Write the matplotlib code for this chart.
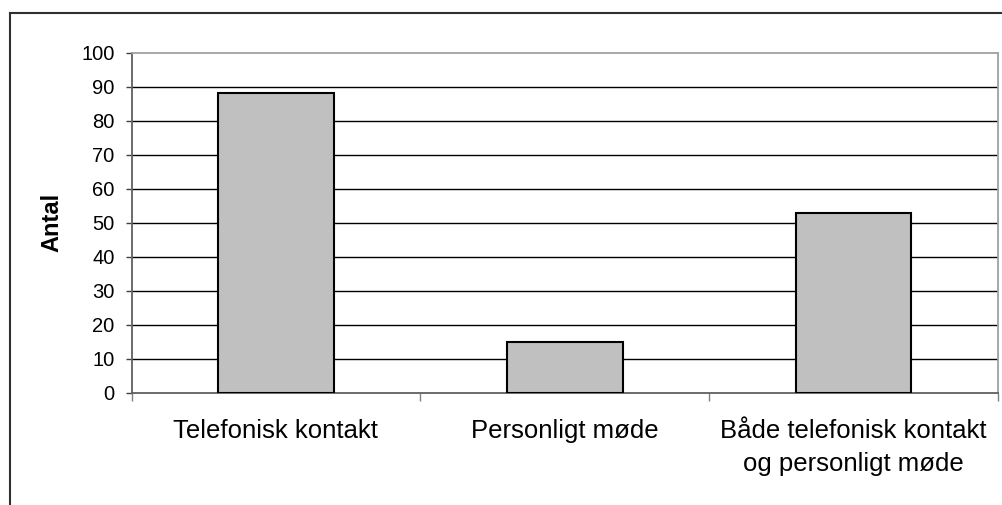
import matplotlib
matplotlib.use("Agg")
import matplotlib.pyplot as plt
from matplotlib.lines import Line2D

plt.rcParams['font.family'] = ['Liberation Sans', 'DejaVu Sans']

categories = ["Telefonisk kontakt", "Personligt møde", "Både telefonisk kontakt\nog personligt møde"]
antal = [88, 15, 53]
y_ticks = [0, 10, 20, 30, 40, 50, 60, 70, 80, 90, 100]

W, H = 1003, 505
fig = plt.figure(figsize=(W / 100, H / 100), dpi=100)
fig.patch.set_facecolor("white")

# plot area in pixels: x 131.5..998, y 52.5..393
ax = fig.add_axes([131.5 / W, 1 - 393 / H, (998 - 131.5) / W, (393 - 52.5) / H])

pos = list(range(len(categories)))
ax.bar(pos, antal, width=0.40, color="#C0C0C0", edgecolor="black", linewidth=1.5, zorder=3)

ax.set_xlim(-0.5, len(categories) - 0.5)
ax.set_ylim(0, 100)
ax.set_yticks(y_ticks)
ax.set_yticklabels([str(v) for v in y_ticks], fontsize=14.5)
for v in y_ticks[1:-1]:
    ax.axhline(v, color="black", linewidth=1.0, zorder=1)

# boundary ticks below the axis, labels centred under bars
ax.set_xticks([p - 0.5 for p in pos] + [pos[-1] + 0.5])
ax.set_xticklabels([])
ax.set_xticks(pos, minor=True)
ax.set_xticklabels(categories, minor=True, fontsize=18.5, linespacing=1.45)
ax.tick_params(axis="x", which="major", length=6, width=1, color="#808080", direction="out")
ax.tick_params(axis="x", which="minor", length=0, pad=19)
ax.tick_params(axis="y", length=4.3, width=1, color="#404040", pad=8)

for side in ["left", "bottom"]:
    ax.spines[side].set_color("#606060")
    ax.spines[side].set_linewidth(1.3)
for side in ["top", "right"]:
    ax.spines[side].set_color("#A0A0A0")
    ax.spines[side].set_linewidth(1.3)

fig.text(52 / W, 1 - 222 / H, "Antal", rotation=90, ha="center", va="center",
         fontsize=17, fontweight="bold")

# outer chart frame (cut off at right and bottom)
fig.add_artist(Line2D([10 / W, 10 / W], [0, 1 - 12.5 / H], transform=fig.transFigure,
                      color="#303030", linewidth=1.5))
fig.add_artist(Line2D([10 / W, 1], [1 - 12.5 / H, 1 - 12.5 / H], transform=fig.transFigure,
                      color="#303030", linewidth=1.5))

fig.savefig("out.png", dpi=100)
